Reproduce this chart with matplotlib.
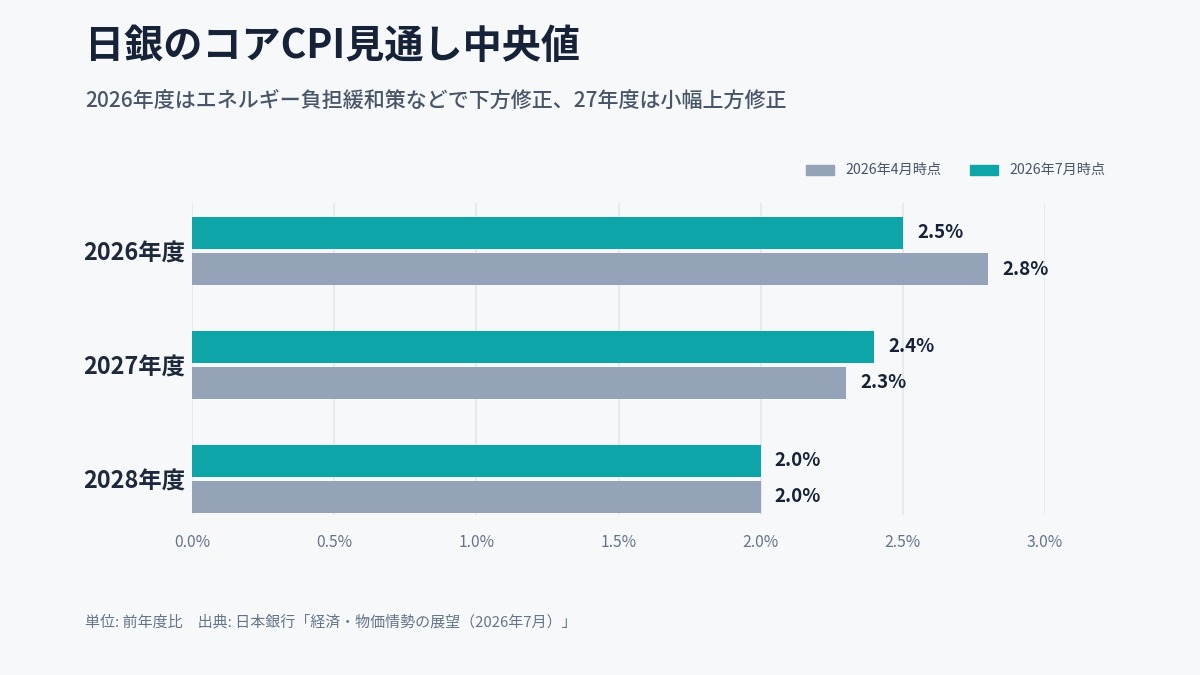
import matplotlib.pyplot as plt
from matplotlib.patches import Rectangle

plt.rcParams['font.family'] = ['Noto Sans CJK JP', 'DejaVu Sans']

# data
categories = ['2026年度', '2027年度', '2028年度']
series_names = ['2026年4月時点', '2026年7月時点']
april = [2.8, 2.3, 2.0]
july = [2.5, 2.4, 2.0]
xticks = [0.0, 0.5, 1.0, 1.5, 2.0, 2.5, 3.0]

BG = '#F7F8FA'
TEAL = '#0EA5A9'
GREY = '#94A3B8'
DARK = '#152238'

W, H = 1200, 675
fig = plt.figure(figsize=(W / 100, H / 100), dpi=100, facecolor=BG)

# axes in pixel coords
left, right, top, bottom = 192, 1045, 203, 515
ax = fig.add_axes([left / W, 1 - bottom / H, (right - left) / W, (bottom - top) / H])
ax.set_facecolor(BG)

ypos = list(range(len(categories)))
off = 0.158
h = 0.28
ax.barh([y - off for y in ypos], july, height=h, color=TEAL, zorder=2)
ax.barh([y + off for y in ypos], april, height=h, color=GREY, zorder=2)

for y, v in zip(ypos, july):
    ax.text(v + 0.05, y - off, f'{v:.1f}%', va='center', ha='left', fontsize=13.5,
            fontweight='bold', color=DARK, clip_on=False)
for y, v in zip(ypos, april):
    ax.text(v + 0.05, y + off, f'{v:.1f}%', va='center', ha='left', fontsize=13.5,
            fontweight='bold', color=DARK, clip_on=False)

ax.set_xlim(0, 3.0)
ax.set_ylim(2.316, -0.421)
ax.set_xticks(xticks)
ax.set_xticklabels([f'{t:.1f}%' for t in xticks], fontsize=11.3, color='#64748B')
ax.set_yticks(ypos)
ax.set_yticklabels(categories, fontsize=16.8, fontweight='bold', color='#1E293B')
ax.tick_params(axis='both', length=0)
ax.tick_params(axis='y', pad=5)
ax.tick_params(axis='x', pad=14)
ax.grid(axis='x', color='#E2E8F0', linewidth=1.2, zorder=0)
for s in ax.spines.values():
    s.set_visible(False)

# title / subtitle
fig.text(85 / W, 1 - 46 / H, '日銀のコアCPI見通し中央値', fontsize=28.2, fontweight='bold',
         color=DARK, va='center', ha='left')
fig.text(85 / W, 1 - 101 / H, '2026年度はエネルギー負担緩和策などで下方修正、27年度は小幅上方修正',
         fontsize=15.1, fontweight='medium', color='#475569', va='center', ha='left')

# legend
for x0, col, name in [(806, GREY, series_names[0]), (970, TEAL, series_names[1])]:
    fig.patches.append(Rectangle((x0 / W, 1 - 175 / H), 28 / W, 10 / H,
                                 transform=fig.transFigure, color=col))
    fig.text((x0 + 39) / W, 1 - 170 / H, name, fontsize=10.2, color='#475569',
             va='center', ha='left')

# footer
fig.text(85 / W, 1 - 622 / H, '単位: 前年度比　出典: 日本銀行「経済・物価情勢の展望（2026年7月）」',
         fontsize=10.8, color='#64748B', va='center', ha='left')

fig.savefig('out.png', dpi=100, facecolor=BG)
